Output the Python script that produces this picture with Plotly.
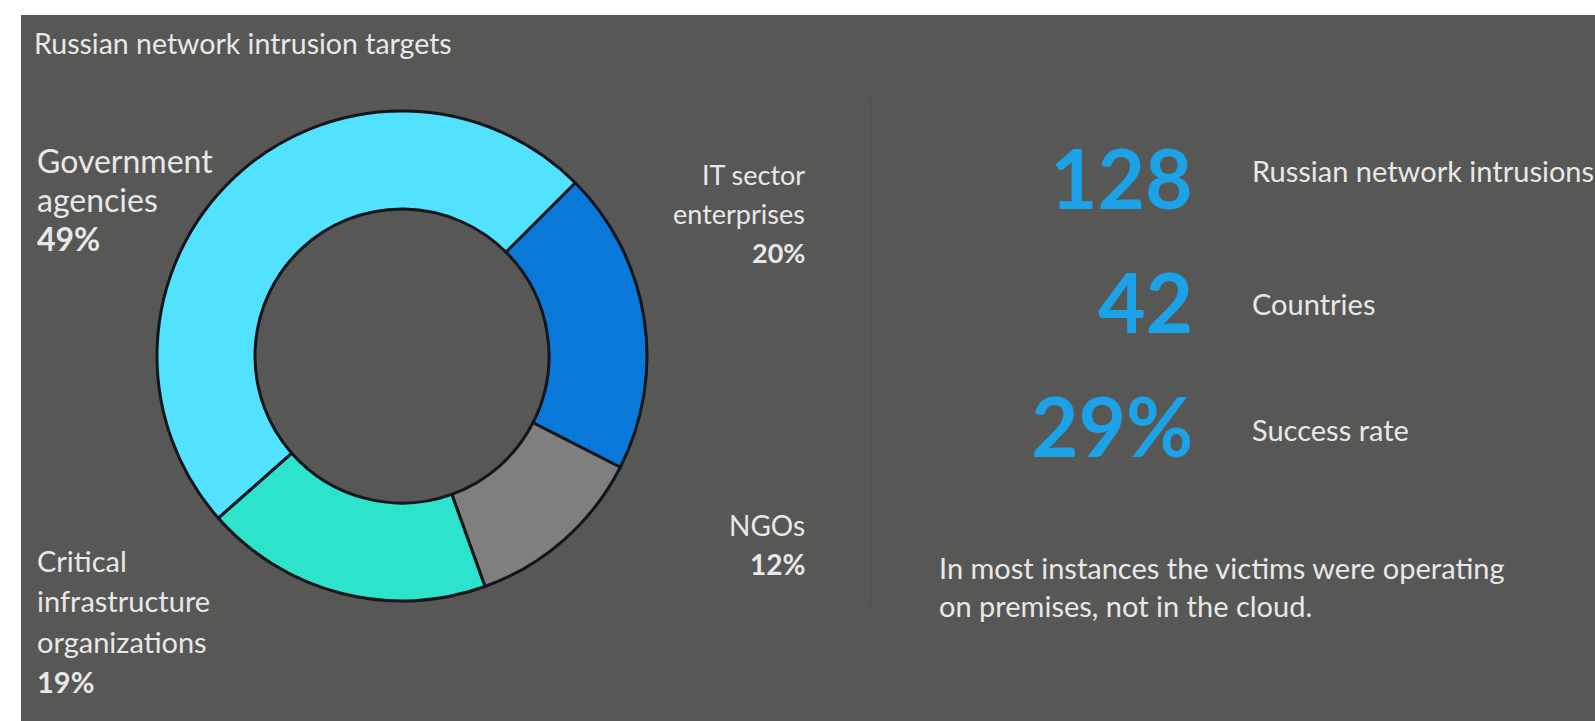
import plotly.graph_objects as go

# Intrusion targets by sector (share of intrusions, %)
sectors = ["IT sector enterprises", "NGOs", "Critical infrastructure organizations", "Government agencies"]
shares = [20, 12, 19, 49]
colors = ["#0A78D8", "#7F7F7F", "#2EE3CC", "#52E2FF"]

# Headline statistics
stat_values = ["128", "42", "29%"]
stat_labels = ["Russian network intrusions", "Countries", "Success rate"]

title_text = "Russian network intrusion targets"
footnote_lines = ["In most instances the victims were operating", "on premises, not in the cloud."]

BG = "#575755"
TXT = "#E8E8E8"
BLUE = "#1CA2E6"
FONT = "Lato, 'Open Sans', sans-serif"

W, H = 1595, 721

fig = go.Figure()
fig.add_trace(go.Pie(
    labels=sectors,
    values=shares,
    sort=False,
    direction="clockwise",
    rotation=45,
    hole=0.6,
    marker=dict(colors=colors, line=dict(color="#10161b", width=3)),
    textinfo="none",
    hoverinfo="label+percent",
    showlegend=False,
    domain=dict(x=[(402 - 245) / W, (402 + 245) / W],
                y=[(H - 356 - 245) / H, (H - 356 + 245) / H]),
))

def px(x):
    return x / W

def py(y):
    return 1 - y / H

annotations = []

def note(text, x, y, size, anchor="left", color=TXT, bold=False, yanchor="middle"):
    if bold:
        text = f"<b>{text}</b>"
    annotations.append(dict(
        text=text, x=px(x), y=py(y), xref="paper", yref="paper",
        xanchor=anchor, yanchor=yanchor, showarrow=False, align=anchor,
        font=dict(family=FONT, size=size, color=color),
    ))

note(title_text, 32, 43, 28.5)

# Sector labels around the ring
sector_label_lines = {
    "Government agencies": (["Government", "agencies"], 35, [160, 199], 238, 32, "left"),
    "IT sector enterprises": (["IT sector", "enterprises"], 807, [174, 214], 252, 27, "right"),
    "NGOs": (["NGOs"], 807, [525], 564, 28, "right"),
    "Critical infrastructure organizations": (["Critical", "infrastructure", "organizations"], 35, [560, 600, 641], 681, 29, "left"),
}
for name, share in zip(sectors, shares):
    lines, x, ys, y_pct, size, anchor = sector_label_lines[name]
    for line, y in zip(lines, ys):
        note(line, x, y, size, anchor=anchor)
    note(f"{share}%", x, y_pct, size, anchor=anchor, bold=True)

# Headline stats on the right
value_rows = [177, 301, 425]
label_rows = [170, 303, 430]
for val, lab, yv, yl in zip(stat_values, stat_labels, value_rows, label_rows):
    note(val, 1195, yv, 82, anchor="right", color=BLUE, bold=True)
    note(lab, 1250, yl, 29)

for line, y in zip(footnote_lines, [567, 605]):
    note(line, 937, y, 29)

shapes = [
    # dark panel
    dict(type="rect", xref="paper", yref="paper", x0=px(21), x1=1, y0=0, y1=py(15),
         fillcolor=BG, line=dict(width=0), layer="below"),
    # faint divider between the two halves
    dict(type="line", xref="paper", yref="paper", x0=px(871), x1=px(871), y0=py(100), y1=py(605),
         line=dict(color="#535351", width=3), layer="below"),
]

fig.update_layout(
    width=W, height=H,
    margin=dict(l=0, r=0, t=0, b=0),
    paper_bgcolor="#FFFFFF",
    plot_bgcolor=BG,
    annotations=annotations,
    shapes=shapes,
)

fig.write_html("out.html")
